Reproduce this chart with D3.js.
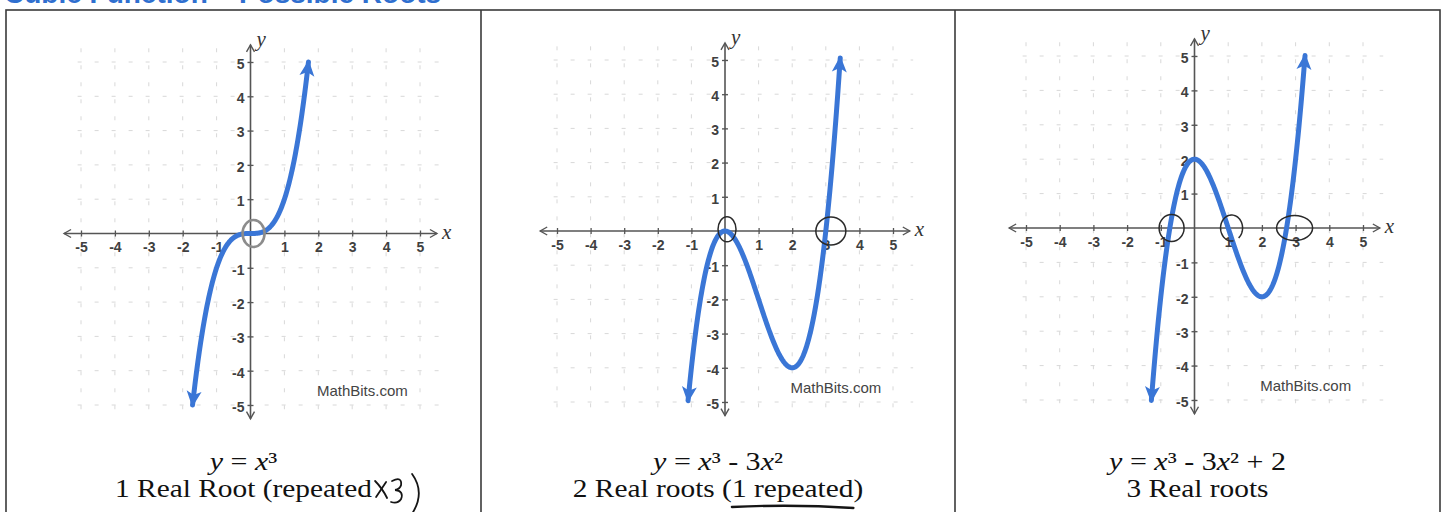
<!DOCTYPE html>
<html>
<head>
<meta charset="utf-8">
<script src="https://cdn.jsdelivr.net/npm/d3@7"></script>
<style>
  body { margin: 0; background: #fff; }
  svg { display: block; }
</style>
</head>
<body>
<svg id="chart" width="1445" height="512"></svg>
<script>
// ---- data ---------------------------------------------------------------
const tickValues = [-5, -4, -3, -2, -1, 1, 2, 3, 4, 5];
const gridValues = [-5, -4, -3, -2, -1, 1, 2, 3, 4, 5];

// cubic coefficients [a, b, c, d] for y = ax³ + bx² + cx + d
const coeffs = [[1, 0, 0, 0], [1, -3, 0, 0], [1, -3, 0, 2]];

// x-interval drawn for each curve (the part with |y| ≤ 5)
const curveFrom = [-1.71, -1.1, -1.28];
const curveTo = [1.71, 3.43, 3.28];

const equations = ["y = x³", "y = x³ - 3x²", "y = x³ - 3x² + 2"];
const captions = ["1 Real Root (repeated", "2 Real roots (1 repeated)", "3 Real roots"];

// circled roots, centre in graph units
const rootMarks = [
  [{ x: 0.09, y: 0 }],
  [{ x: 0.06, y: 0.05 }, { x: 3.15, y: 0 }],
  [{ x: -0.68, y: 0 }, { x: 1.1, y: 0 }, { x: 2.97, y: 0 }]
];

const title = "Cubic Function – Possible Roots";
const credit = "MathBits.com";

// ---- layout -------------------------------------------------------------
const panels = [
  { left: 6,   right: 481,  x0: 81,   x1: 420,  yBot: 405, yTop: 62 },
  { left: 481, right: 955,  x0: 557,  x1: 893,  yBot: 402, yTop: 60 },
  { left: 955, right: 1440, x0: 1026, x1: 1363, yBot: 400, yTop: 56 }
];
const circleSizes = [
  [{ rx: 11, ry: 13.5, stroke: "#8c8c8c", w: 2.6 }],
  [{ rx: 9, ry: 12.5, stroke: "#2a2a2a", w: 1.5 }, { rx: 15, ry: 14, stroke: "#2a2a2a", w: 1.5 }],
  [{ rx: 12.5, ry: 13.5, stroke: "#2a2a2a", w: 1.5 }, { rx: 11, ry: 13, stroke: "#2a2a2a", w: 1.5, open: true },
   { rx: 18, ry: 12.5, stroke: "#2a2a2a", w: 1.5 }]
];

const blue = "#3a76d6";
const serif = "Liberation Serif, Times New Roman, serif";
const labelFont = "Liberation Sans, Arial, sans-serif";
const svg = d3.select("#chart");

svg.append("rect").attr("width", 1445).attr("height", 512).attr("fill", "#fff");

// heading, cropped by the top edge of the page
svg.append("text")
  .attr("x", 4).attr("y", 3)
  .attr("font-family", labelFont)
  .attr("font-weight", "bold").attr("font-size", 28)
  .attr("fill", "#2f6fcf")
  .text(title);

// markers
const defs = svg.append("defs");
defs.append("marker")
  .attr("id", "curveArrow").attr("markerUnits", "userSpaceOnUse")
  .attr("viewBox", "-18 -9 20 18").attr("refX", 0).attr("refY", 0)
  .attr("markerWidth", 20).attr("markerHeight", 18)
  .attr("orient", "auto-start-reverse")
  .append("path").attr("d", "M2,0 L-14,-7.5 L-10,0 L-14,7.5 Z").attr("fill", blue);
defs.append("marker")
  .attr("id", "axisArrow").attr("markerUnits", "userSpaceOnUse")
  .attr("viewBox", "-10 -6 12 12").attr("refX", 0).attr("refY", 0)
  .attr("markerWidth", 12).attr("markerHeight", 12)
  .attr("orient", "auto-start-reverse")
  .append("path").attr("d", "M-7,-4 L0,0 L-7,4").attr("fill", "none")
  .attr("stroke", "#555").attr("stroke-width", 1.4);

// table frame
const frame = svg.append("g").attr("stroke", "#3a3a3a").attr("stroke-width", 1.6).attr("fill", "none");
frame.append("rect").attr("x", 6).attr("y", 10).attr("width", 1434).attr("height", 520);
frame.append("line").attr("x1", 481).attr("x2", 481).attr("y1", 10).attr("y2", 512);
frame.append("line").attr("x1", 955).attr("x2", 955).attr("y1", 10).attr("y2", 512);

panels.forEach((p, i) => {
  const x = d3.scaleLinear().domain([-5, 5]).range([p.x0, p.x1]);
  const y = d3.scaleLinear().domain([-5, 5]).range([p.yBot, p.yTop]);
  const g = svg.append("g");

  // dotted grid
  const grid = g.append("g").attr("stroke", "#d8d8d8").attr("stroke-width", 1)
    .attr("stroke-dasharray", "4,13");
  grid.selectAll("line.v").data(gridValues).join("line")
    .attr("class", "v")
    .attr("x1", d => x(d)).attr("x2", d => x(d))
    .attr("y1", y(5.4)).attr("y2", y(-5.2));
  grid.selectAll("line.h").data(gridValues).join("line")
    .attr("class", "h")
    .attr("y1", d => y(d)).attr("y2", d => y(d))
    .attr("x1", x(-5.1)).attr("x2", x(5.6));

  // axis lines with open arrows
  g.append("line")
    .attr("x1", x(-5.5)).attr("x2", x(5.5)).attr("y1", y(0)).attr("y2", y(0))
    .attr("stroke", "#555").attr("stroke-width", 1.6)
    .attr("marker-start", "url(#axisArrow)").attr("marker-end", "url(#axisArrow)");
  g.append("line")
    .attr("x1", x(0)).attr("x2", x(0)).attr("y1", y(-5.4)).attr("y2", y(5.5))
    .attr("stroke", "#555").attr("stroke-width", 1.6)
    .attr("marker-start", "url(#axisArrow)").attr("marker-end", "url(#axisArrow)");

  // x ticks
  const xAxis = g.append("g").attr("transform", `translate(0,${y(0)})`)
    .call(d3.axisBottom(x).tickValues(tickValues).tickFormat(d => String(d))
      .tickSizeInner(3).tickSizeOuter(0).tickPadding(6));
  xAxis.select(".domain").remove();
  xAxis.selectAll(".tick line").attr("y1", -3).attr("y2", 3).attr("stroke", "#555").attr("stroke-width", 1.3);
  xAxis.selectAll(".tick text").attr("font-family", labelFont).attr("font-size", 14)
    .attr("font-weight", "bold").attr("fill", "#404040");

  // y ticks
  const yAxis = g.append("g").attr("transform", `translate(${x(0)},0)`)
    .call(d3.axisLeft(y).tickValues(tickValues).tickFormat(d => String(d))
      .tickSizeInner(3).tickSizeOuter(0).tickPadding(3));
  yAxis.select(".domain").remove();
  yAxis.selectAll(".tick line").attr("x1", -3).attr("x2", 3).attr("stroke", "#555").attr("stroke-width", 1.3);
  yAxis.selectAll(".tick text").attr("font-family", labelFont).attr("font-size", 14)
    .attr("font-weight", "bold").attr("fill", "#404040").attr("dy", "0.45em");

  // axis names
  g.append("text").attr("x", x(5.5) + 5).attr("y", y(0) + 5)
    .attr("font-family", serif).attr("font-style", "italic")
    .attr("font-size", 21).attr("fill", "#333").text("x");
  g.append("text").attr("x", x(0) + 6).attr("y", y(5.5) + 1)
    .attr("font-family", serif).attr("font-style", "italic")
    .attr("font-size", 21).attr("fill", "#333").text("y");

  // the cubic
  const [a, b, c, d0] = coeffs[i];
  const f = t => ((a * t + b) * t + c) * t + d0;
  const n = 240;
  const pts = d3.range(n + 1).map(k => {
    const t = curveFrom[i] + (curveTo[i] - curveFrom[i]) * k / n;
    return [t, f(t)];
  });
  g.append("path")
    .attr("d", d3.line().x(q => x(q[0])).y(q => y(q[1])).curve(d3.curveLinear)(pts))
    .attr("fill", "none").attr("stroke", blue).attr("stroke-width", 5)
    .attr("stroke-linecap", "round").attr("stroke-linejoin", "round")
    .attr("marker-start", "url(#curveArrow)").attr("marker-end", "url(#curveArrow)");

  // circled roots
  rootMarks[i].forEach((m, j) => {
    const s = circleSizes[i][j];
    const cx = x(m.x), cy = y(m.y);
    if (s.open) {
      const arc = d3.range(0, 61).map(k => {
        const ang = (-50 + k * 330 / 60) * Math.PI / 180;
        return [cx + s.rx * Math.cos(ang), cy - s.ry * Math.sin(ang)];
      });
      g.append("path").attr("d", d3.line()(arc)).attr("fill", "none")
        .attr("stroke", s.stroke).attr("stroke-width", s.w);
    } else {
      g.append("ellipse").attr("cx", cx).attr("cy", cy).attr("rx", s.rx).attr("ry", s.ry)
        .attr("fill", "none").attr("stroke", s.stroke).attr("stroke-width", s.w);
    }
  });

  // credit line
  g.append("text").attr("x", x(3.3)).attr("y", y(-4.6) + 5)
    .attr("text-anchor", "middle").attr("font-family", labelFont)
    .attr("font-size", 15).attr("fill", "#444").text(credit);

  // equation (variables in italics) and description, set in a wide serif
  const cx = (p.left + p.right) / 2;
  const eq = g.append("text").attr("x", 0).attr("y", 0).attr("text-anchor", "middle")
    .attr("transform", `translate(${cx},470) scale(1.2,1)`)
    .attr("font-family", serif).attr("font-size", 25).attr("fill", "#111");
  equations[i].split(/([xy])/).filter(s => s.length).forEach(s => {
    eq.append("tspan").attr("font-style", /^[xy]$/.test(s) ? "italic" : "normal").text(s);
  });

  const capScale = 1.13;
  const cap = g.append("text").attr("x", 0).attr("y", 0).attr("text-anchor", "middle")
    .attr("transform", `translate(${cx},497) scale(${capScale},1)`)
    .attr("font-family", serif).attr("font-size", 26)
    .attr("fill", "#111").text(captions[i]);

  const ink = g.append("g").attr("fill", "none").attr("stroke", "#151515")
    .attr("stroke-width", 1.8).attr("stroke-linecap", "round");
  if (i === 0) {
    // pencilled "x3)" after the caption
    const box = cap.node().getBBox();
    const xe = cx + (box.x + box.width) * capScale + 2;
    ink.append("path").attr("d", `M${xe + 1},481 Q${xe + 8},488 ${xe + 13},498`);
    ink.append("path").attr("d", `M${xe + 12},482 L${xe + 2},497`);
    ink.append("path").attr("d",
      `M${xe + 18},481 Q${xe + 28},476 ${xe + 27},485 Q${xe + 26},489 ${xe + 21},490 ` +
      `Q${xe + 30},491 ${xe + 27},499 Q${xe + 24},504 ${xe + 17},502`);
    ink.append("path").attr("d", `M${xe + 38},474 Q${xe + 51},492 ${xe + 39},512`);
  }
  if (i === 1) {
    // pencilled underline beneath "1 repeated"
    const start = captions[i].indexOf("1 repeated");
    const node = cap.node();
    const box = node.getBBox();
    const pre = node.getSubStringLength(0, start);
    const len = node.getSubStringLength(start, "1 repeated".length);
    const x1 = cx + (box.x + pre) * capScale, x2 = x1 + len * capScale;
    ink.append("path").attr("stroke-width", 2.4)
      .attr("d", `M${x1},507 Q${(x1 + x2) / 2},504 ${x2},508`);
  }
});
</script>
</body>
</html>
